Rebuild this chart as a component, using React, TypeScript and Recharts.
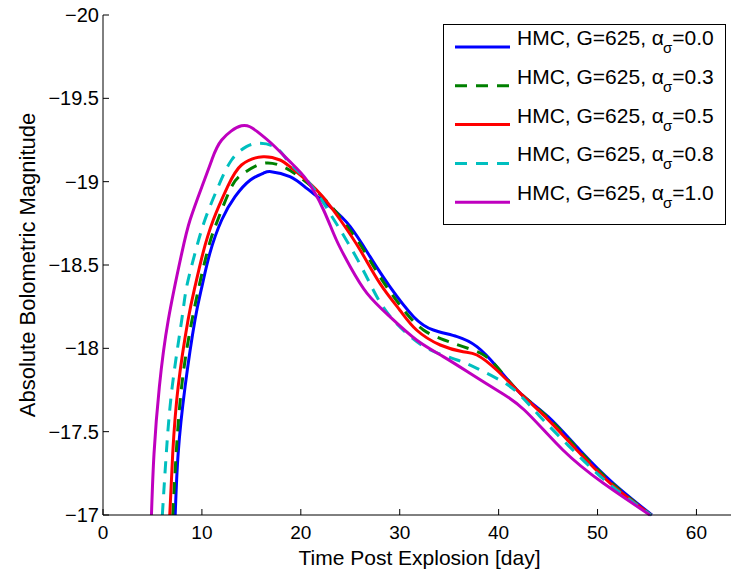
import { Legend, Line, LineChart, XAxis, YAxis } from 'recharts';

// light curves: [day, absolute bolometric magnitude]
const alpha00 = [
    [7.3, -17.0], [7.6, -17.37], [8.3, -17.77], [9.3, -18.17], [10.0, -18.37], [10.8, -18.57],
    [12.0, -18.77], [13.35, -18.91], [14.9, -19.01], [16.2, -19.05], [17.0, -19.06], [18.9, -19.03],
    [20.6, -18.96], [22.95, -18.85], [25.0, -18.73], [27.0, -18.55], [29.0, -18.37], [31.4, -18.19],
    [33.4, -18.11], [35.8, -18.07], [37.8, -18.01], [39.8, -17.89], [42.2, -17.73], [45.0, -17.59],
    [48.2, -17.39], [51.6, -17.19], [55.5, -17.0],
];
const alpha03 = [
    [7.05, -17.0], [7.4, -17.37], [7.95, -17.77], [9.0, -18.17], [10.5, -18.57], [11.6, -18.77],
    [13.0, -18.97], [14.2, -19.05], [16.2, -19.11], [18.2, -19.09], [19.6, -19.04], [21.1, -18.97],
    [22.95, -18.86], [25.7, -18.65], [28.0, -18.43], [30.4, -18.23], [32.4, -18.11], [34.5, -18.05],
    [36.4, -18.01], [38.5, -17.96], [40.1, -17.87], [42.2, -17.73], [44.9, -17.59], [48.1, -17.39],
    [51.5, -17.19], [55.4, -17.0],
];
const alpha05 = [
    [6.75, -17.0], [7.05, -17.37], [7.6, -17.77], [8.6, -18.17], [9.3, -18.37], [10.1, -18.57],
    [11.15, -18.77], [12.6, -18.97], [14.0, -19.10], [16.2, -19.15], [17.9, -19.13],
    [18.9, -19.09], [21.6, -18.95], [24.0, -18.77], [26.0, -18.59], [28.0, -18.39], [30.0, -18.23],
    [31.7, -18.11], [34.1, -18.02], [36.4, -17.98], [37.8, -17.96], [39.8, -17.87], [42.2, -17.73],
    [44.7, -17.59], [47.9, -17.39], [51.3, -17.19], [55.4, -17.0],
];
const alpha08 = [
    [6.0, -17.0], [6.4, -17.37], [7.0, -17.77], [7.96, -18.17], [8.46, -18.37], [9.3, -18.57],
    [10.3, -18.77], [11.65, -18.97], [13.0, -19.13], [14.5, -19.21], [15.9, -19.23], [17.6, -19.20],
    [18.9, -19.11], [20.9, -18.99], [22.95, -18.81], [24.3, -18.68], [26.3, -18.47], [28.3, -18.25],
    [30.7, -18.09], [33.1, -17.99], [35.8, -17.93], [37.8, -17.88], [39.8, -17.82], [41.8, -17.74],
    [44.2, -17.59], [47.5, -17.39], [51.1, -17.19], [55.4, -17.0],
];
const alpha10 = [
    [4.9, -17.0], [5.16, -17.37], [5.7, -17.77], [6.6, -18.17], [7.96, -18.57], [8.8, -18.77],
    [10.0, -18.97], [11.0, -19.13], [12.0, -19.25], [14.0, -19.335], [15.6, -19.30],
    [17.2, -19.22], [18.9, -19.12], [20.6, -19.01], [22.3, -18.83], [23.6, -18.65], [25.0, -18.49],
    [26.7, -18.33], [29.0, -18.19], [31.7, -18.05], [34.4, -17.95], [37.1, -17.85], [39.8, -17.75],
    [42.6, -17.63], [46.5, -17.39], [50.6, -17.19], [55.3, -17.0],
];

const X_TICKS = [0, 10, 20, 30, 40, 50, 60];
const Y_TICKS = [-20, -19.5, -19, -18.5, -18, -17.5, -17];

const SERIES = [
    { label: '0.0', points: alpha00, color: '#0000ff', dash: undefined },
    { label: '0.3', points: alpha03, color: '#008000', dash: '12 9' },
    { label: '0.5', points: alpha05, color: '#ff0000', dash: undefined },
    { label: '0.8', points: alpha08, color: '#00bfbf', dash: '12 9' },
    { label: '1.0', points: alpha10, color: '#bf00bf', dash: undefined },
];

const FONT = '"Liberation Sans", Arial, Helvetica, sans-serif';
const fmt = (v: number) => String(v).replace('-', '\u2212');

const LeftTick = ({ x, y, payload }: any) => (
    <g>
        <line x1={x + 4} y1={y} x2={x + 10} y2={y} stroke="#000" />
        <text x={x} y={y} dy="0.35em" textAnchor="end" fontSize={20} fontFamily={FONT} fill="#000">
            {fmt(payload.value)}
        </text>
    </g>
);

const BottomTick = ({ x, y, payload }: any) => (
    <g>
        <line x1={x} y1={y - 11} x2={x} y2={y - 17} stroke="#000" />
        <text x={x} y={y} dy="0.71em" textAnchor="middle" fontSize={19} fontFamily={FONT} fill="#000">
            {fmt(payload.value)}
        </text>
    </g>
);

const TopTick = ({ x, y }: any) => <line x1={x} y1={y} x2={x} y2={y + 6} stroke="#000" />;
const RightTick = ({ x, y }: any) => <line x1={x} y1={y} x2={x - 6} y2={y} stroke="#000" />;

const LegendBox = () => (
    <svg width={283} height={201} style={{ display: 'block' }}>
        <rect x={0.5} y={0.5} width={282} height={200} fill="#fff" stroke="#000" />
        {SERIES.map((s, i) => {
            const cy = 23 + i * 38.8;
            return (
                <g key={s.label}>
                    <line x1={12} x2={67} y1={cy} y2={cy} stroke={s.color} strokeWidth={3} strokeDasharray={s.dash} />
                    <text x={74} y={cy - 2} fontSize={21} fontFamily={FONT} fill="#000">
                        HMC, G=625, α
                        <tspan fontSize={15} dx={-1} dy={8}>σ</tspan>
                        <tspan dy={-8}>={s.label}</tspan>
                    </text>
                </g>
            );
        })}
    </svg>
);

export default function App() {
    return (
        <div style={{ position: 'absolute', left: 0, top: 0, width: 731, height: 574, overflow: 'hidden', background: '#fff' }}>
            <LineChart width={736} height={574} margin={{ top: 15, right: 0, bottom: 0, left: 0 }}>
                <XAxis
                    dataKey="x"
                    type="number"
                    domain={[0, 64]}
                    ticks={X_TICKS}
                    height={59}
                    tickSize={0}
                    tickMargin={11}
                    tickLine={false}
                    tick={<BottomTick />}
                    axisLine={{ stroke: '#000' }}
                    label={(p: any) => (
                        <text x={p.viewBox.x + p.viewBox.width / 2} y={565} textAnchor="middle" fontSize={21} fontFamily={FONT} fill="#000">
                            Time Post Explosion [day]
                        </text>
                    )}
                />
                <XAxis
                    xAxisId="top"
                    orientation="top"
                    type="number"
                    domain={[0, 64]}
                    ticks={X_TICKS}
                    height={0}
                    tickSize={0}
                    tickMargin={0}
                    tickLine={false}
                    tick={<TopTick />}
                    axisLine={{ stroke: '#000' }}
                />
                <YAxis
                    type="number"
                    domain={[-20, -17]}
                    reversed
                    ticks={Y_TICKS}
                    width={103}
                    tickSize={0}
                    tickMargin={4}
                    tickLine={false}
                    tick={<LeftTick />}
                    axisLine={{ stroke: '#000' }}
                    label={(p: any) => {
                        const cy = p.viewBox.y + p.viewBox.height / 2;
                        return (
                            <text x={27} y={cy} transform={`rotate(-90, 27, ${cy})`} textAnchor="middle" dominantBaseline="central" fontSize={22} fontFamily={FONT} fill="#000">
                                Absolute Bolometric Magnitude
                            </text>
                        );
                    }}
                />
                <YAxis
                    yAxisId="right"
                    orientation="right"
                    type="number"
                    domain={[-20, -17]}
                    reversed
                    ticks={Y_TICKS}
                    width={0}
                    tickSize={0}
                    tickMargin={0}
                    tickLine={false}
                    tick={<RightTick />}
                    axisLine={{ stroke: '#000' }}
                />
                {SERIES.map(s => (
                    <Line
                        key={s.label}
                        data={s.points.map(([x, y]) => ({ x, y }))}
                        dataKey="y"
                        type="natural"
                        stroke={s.color}
                        strokeWidth={3}
                        strokeDasharray={s.dash}
                        dot={false}
                        activeDot={false}
                        isAnimationActive={false}
                    />
                ))}
                <Legend
                    layout="horizontal"
                    align="center"
                    verticalAlign="middle"
                    wrapperStyle={{ position: 'absolute', left: 443, top: 24, width: 283, height: 201 }}
                    content={() => <LegendBox />}
                />
            </LineChart>
        </div>
    );
}
